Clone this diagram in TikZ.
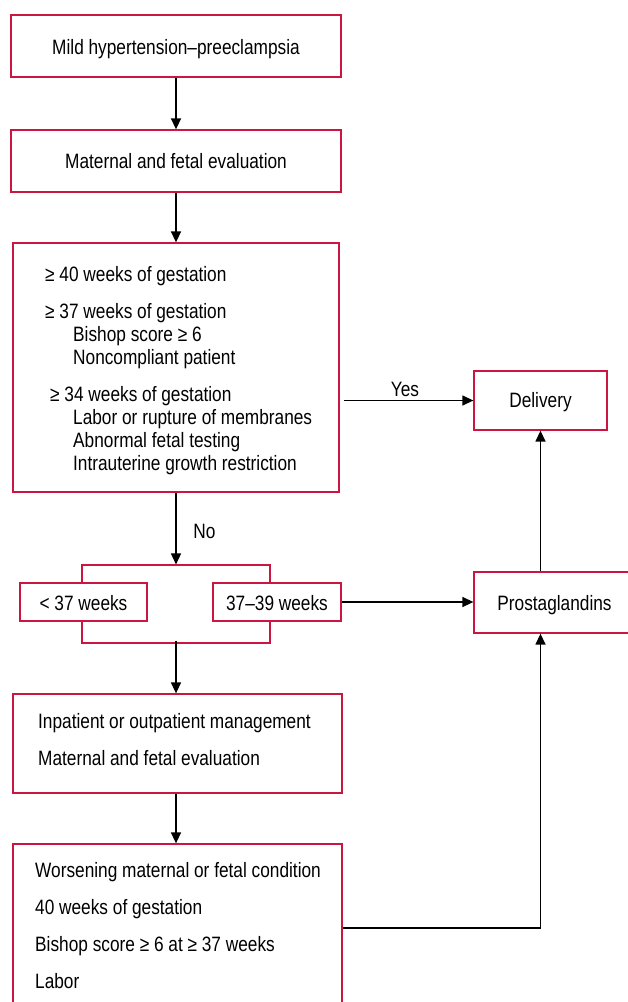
\documentclass[tikz,border=0pt]{standalone}
\usepackage{fontspec}
\setmainfont{Liberation Sans}[FakeStretch=0.83]
\usetikzlibrary{arrows.meta,calc}
\definecolor{boxred}{RGB}{204,22,66}
\begin{document}
\begin{tikzpicture}[x=1pt,y=-1pt,
  every node/.style={font=\fontsize{20.8}{23}\selectfont},
  box/.style={draw=boxred,line width=1.3pt,fill=white,inner sep=0pt,rectangle},
  txt/.style={inner sep=0pt,anchor=base west,text=black},
  ctxt/.style={inner sep=0pt,anchor=base,text=black},
  arr/.style={line width=1.4pt,-{Triangle[length=11pt,width=10pt]}}]
\useasboundingbox (0,0) rectangle (628,1002);
\fill[white] (0,0) rectangle (628,1002);
\clip (0,0) rectangle (628,1002);
% boxes
\node[box,minimum width=330pt,minimum height=62pt] (b1) at (176,46) {};
\node[box,minimum width=330pt,minimum height=62pt] (b2) at (176,161) {};
\node[box,minimum width=326pt,minimum height=249pt] (b3) at (176,367.5) {};
\node[box,minimum width=133pt,minimum height=59pt] (del) at (540.5,400.5) {};
\node[box,fill=none,line width=1.1pt,minimum width=188pt,minimum height=78pt] (br) at (176,604) {};
\node[box,minimum width=127pt,minimum height=38pt] (lt) at (83.5,602) {};
\node[box,minimum width=128pt,minimum height=38pt] (mid) at (277,602) {};
\node[box,minimum width=166pt,minimum height=61pt] (pro) at (557,602.5) {};
\node[box,minimum width=329pt,minimum height=99pt] (b5) at (177.5,743.5) {};
\node[box,minimum width=329pt,minimum height=168pt] (b6) at (177.5,928) {};
% texts
\node[ctxt] (t1) at (176,54) {Mild hypertension–preeclampsia};
\node[ctxt] (t2) at (176,168) {Maternal and fetal evaluation};
\node[txt] (t3a) at (45,281) {≥ 40 weeks of gestation};
\node[txt] (t3b) at (45,318) {≥ 37 weeks of gestation};
\node[txt] (t3c) at (73,341) {Bishop score ≥ 6};
\node[txt] (t3d) at (73,364) {Noncompliant patient};
\node[txt] (t3e) at (50,401) {≥ 34 weeks of gestation};
\node[txt] (t3f) at (73,424) {Labor or rupture of membranes};
\node[txt] (t3g) at (73,447) {Abnormal fetal testing};
\node[txt] (t3h) at (73,470) {Intrauterine growth restriction};
\node[ctxt] (tdel) at (540.5,407) {Delivery};
\node[ctxt] (tlt) at (83.5,610) {< 37 weeks};
\node[ctxt] (tmid) at (277,610) {37–39 weeks};
\node[ctxt] (tpro) at (554.5,610) {Prostaglandins};
\node[txt] (t5a) at (38,728) {Inpatient or outpatient management};
\node[txt] (t5b) at (38,765) {Maternal and fetal evaluation};
\node[txt] (t6a) at (35,877) {Worsening maternal or fetal condition};
\node[txt] (t6b) at (35,914) {40 weeks of gestation};
\node[txt] (t6c) at (35,951) {Bishop score ≥ 6 at ≥ 37 weeks};
\node[txt] (t6d) at (35,988) {Labor};
\node[ctxt] (yes) at (405,396) {Yes};
\node[ctxt] (no) at (204.5,538) {No};
% connectors
\draw[arr] (b1) -- (b2);
\draw[arr] (b2) -- (b3);
\draw[arr] ([xshift=4pt]b3.east |- del.west) -- (del.west);
\draw[arr] (b3.south) -- (br.north);
\draw[arr] ([yshift=3pt]br.south) -- (br.south |- b5.north);
\draw[arr] (br.south |- b5.south) -- (br.south |- b6.north);
\draw[arr] (mid.east) -- (mid.east -| pro.west);
\coordinate (pt) at (del.south |- pro.north);
\coordinate (pb) at (del.south |- pro.south);
\draw[arr] (pt) -- (del.south);
\draw[arr] (b6.east) -| (pb);
\end{tikzpicture}
\end{document}
